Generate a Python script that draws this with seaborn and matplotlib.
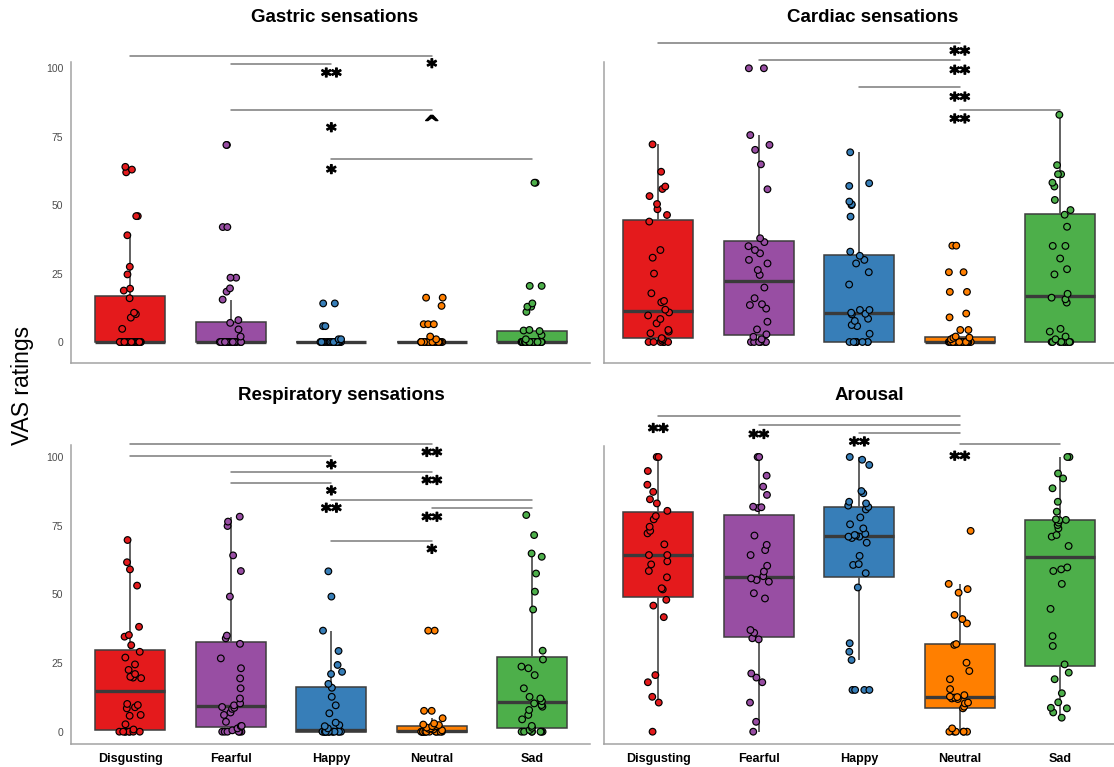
import numpy as np
import pandas as pd
import matplotlib
matplotlib.use("Agg")
import matplotlib.pyplot as plt
import matplotlib.patheffects as pe
import seaborn as sns

# ---------------- data ----------------
emotions = ["Disgusting", "Fearful", "Happy", "Neutral", "Sad"]
palette = ["#E41A1C", "#984EA3", "#377EB8", "#FF7F00", "#4DAF4A"]

# Gastric sensations
gastric_disgusting = [0, 0, 0, 0, 0, 0, 0, 0, 0, 0, 0, 0, 0, 0, 0, 0, 0, 0, 0, 0, 0, 0, 0, 0, 0,
                      4.8, 8.9, 10.2, 10.7, 16, 18.8, 19.5, 24.7, 27.5, 39, 46, 46, 62, 63, 64]
gastric_fearful = [0, 0, 0, 0, 0, 0, 0, 0, 0, 0, 0, 0, 0, 0, 0, 0, 0, 0, 0, 0, 0, 0, 0, 0, 0, 0, 0,
                   2, 4.6, 7, 8, 15.5, 18.4, 19.6, 23.5, 23.5, 42, 42, 72, 72]
gastric_happy = [0, 0, 0, 0, 0, 0, 0, 0, 0, 0, 0, 0, 0, 0, 0, 0, 0, 0, 0, 0, 0, 0, 0, 0, 0, 0, 0,
                 0, 0, 0, 0, 0, 0, 0, 1, 1, 5.8, 5.8, 14.1, 14.1]
gastric_neutral = [0, 0, 0, 0, 0, 0, 0, 0, 0, 0, 0, 0, 0, 0, 0, 0, 0, 0, 0, 0, 0, 0, 0, 0, 0, 0, 0,
                   0, 0, 0, 0, 0, 1, 2, 6.5, 6.5, 6.5, 13.2, 16.2, 16.2]
gastric_sad = [0, 0, 0, 0, 0, 0, 0, 0, 0, 0, 0, 0, 0, 0, 0, 0, 0, 0, 0, 0, 0, 0, 0, 0, 0, 0, 0,
               1, 2.5, 4.0, 4.2, 4.4, 11, 12.9, 12.9, 14.1, 20.5, 20.5, 58.2, 58.2]

# Cardiac sensations
cardiac_disgusting = [0, 0, 0, 0, 0, 0, 0.5, 1, 1.4, 3.2, 3.8, 4.4, 6.8, 8.4, 9.7, 10.8,
                      11.8, 14.5, 15, 17.8, 25, 30.8, 33.6, 44, 46.4, 48.5, 50.4, 53.3, 55.9,
                      56.8, 62.2, 72.2]
cardiac_fearful = [0, 0, 0, 0, 0, 0, 1, 1.9, 2.8, 4.6, 7.4, 12.2, 13.5, 13.8, 16, 19.9,
                   24.5, 26.3, 28.7, 30, 32.4, 33.6, 35, 36.5, 37.9, 55.8, 64.9, 70.2, 72,
                   75.6, 100, 100]
cardiac_happy = [0, 0, 0, 0, 0, 0, 0, 0, 0, 3, 5.8, 6.2, 7.7, 8.5, 10.1, 10.3,
                 10.7, 11.7, 11.7, 21, 25.5, 28.7, 30, 31.5, 33, 45.8, 50, 50.3, 51.3,
                 57, 58, 69.3]
cardiac_neutral = [0, 0, 0, 0, 0, 0, 0, 0, 0, 0, 0, 0, 0, 0, 0, 0, 0, 0, 0, 0, 0, 0, 0, 0,
                   0, 0, 0, 0, 0, 0, 1, 1.5, 1.6, 2, 4.4, 4.4, 9, 10.4, 18.3, 18.3, 25.5,
                   25.5, 35.2, 35.2]
cardiac_sad = [0, 0, 0, 0, 0, 0, 0, 0, 0, 1, 2, 3.8, 4.8, 14.4, 15.6, 16.2,
               17.6, 24.7, 26.6, 30.5, 35.1, 35.1, 42.1, 46.5, 48.2, 51.9, 56.8, 58.2,
               61.3, 61.3, 64.6, 83]

# Respiratory sensations
respiratory_disgusting = [0, 0, 0, 0, 0, 0, 0, 0, 0.8, 2.7, 5.8, 6.1, 8.5, 8.9, 9.7, 10.1,
                          19.5, 19.7, 20, 21, 22.5, 24.5, 27, 29.1, 31.5, 34.6, 35.2, 38.2,
                          53.2, 59.1, 61.7, 69.8]
respiratory_fearful = [0, 0, 0, 0, 0, 0, 0.5, 1.2, 2, 2.1, 3.6, 6.1, 7, 8.3, 8.7, 9,
                       9.6, 10.3, 12.1, 15.8, 19.4, 23.1, 26.7, 32, 34, 35, 49.2, 58.5,
                       64.2, 74.9, 76.5, 78.3]
respiratory_happy = [0, 0, 0, 0, 0, 0, 0, 0, 0, 0, 0, 0, 0, 0, 0, 0,
                     1.2, 2, 2.4, 3.3, 6.7, 9.6, 12.7, 16, 17.4, 21, 21.8, 24.3, 29.4,
                     36.8, 49.2, 58.4]
respiratory_neutral = [0, 0, 0, 0, 0, 0, 0, 0, 0, 0, 0, 0, 0, 0, 0, 0,
                       0.5, 0.8, 1, 1.2, 1.5, 1.8, 2, 2, 2.4, 2.6, 3, 4.9, 7.6, 7.6,
                       36.8, 36.8]
respiratory_sad = [0, 0, 0, 0, 0, 0, 0, 0.6, 1.4, 2.1, 4.5, 6.1, 7.9, 9.1, 9.7, 10.3,
                   11.1, 12.1, 12.7, 15.8, 20.6, 23.1, 23.7, 26.3, 29.5, 44.5, 51, 57.6,
                   63.7, 64.9, 71.6, 78.9]

# Arousal
arousal_disgusting = [0, 10.6, 12.7, 18, 20.6, 41.7, 45.9, 48, 51.8, 52.2, 56.2, 58.5,
                      60.9, 62, 64.3, 64.3, 68.2, 72.2, 73.1, 74.6, 77.3, 78.5, 80.4, 83.1,
                      84.6, 87.3, 89.9, 94.9, 100, 100]
arousal_fearful = [0, 3.6, 10.6, 18, 19.7, 21.2, 33.6, 34, 36, 37, 48.5, 50.4, 54.6,
                   55.2, 55.8, 56.6, 58.3, 60.4, 64.3, 66.1, 68, 71.4, 81.4, 81.7, 81.9,
                   86.2, 89.2, 93.2, 100, 100]
arousal_happy = [15.2, 15.2, 15.2, 15.2, 26.1, 29.1, 32.2, 52.5, 57.7, 60.7, 61, 64,
                 68.8, 70.5, 71, 71, 71.4, 71.6, 72, 74, 75.5, 78, 80.9, 81.8, 82.3,
                 83.1, 83.7, 86.8, 87.6, 97.1, 99, 100]
arousal_neutral = [0, 0, 0, 0, 0, 0, 1.2, 8.5, 9.1, 10.3, 10.6, 11.9, 12.1, 12.4, 12.6,
                   12.8, 13.3, 15.5, 19.1, 22.1, 25.1, 31.6, 31.9, 39.4, 41, 42.5, 50.6,
                   51.9, 53.8, 73.1]
arousal_sad = [5.1, 7, 8.5, 8.7, 10.7, 14, 19.1, 21.5, 24.5, 31.2, 34.8, 44.7, 53.8,
               58.5, 59.1, 59.8, 67.6, 71, 71.6, 74, 75.2, 76.1, 77, 77.1, 77.3, 80.1,
               83.7, 88.6, 92.2, 94, 100, 100]

# Pairwise comparisons: (first group, second group, bracket height)
gastric_brackets = [(0, 3, 104.6), (1, 2, 101.6), (1, 3, 84.9), (2, 4, 66.8)]
gastric_marks = [(3, 101.8, "*"), (2, 98.4, "**"), (3, 81.2, "^"), (2, 78.4, "*"), (2, 63.1, "*")]

cardiac_brackets = [(0, 3, 109.3), (1, 3, 103.0), (2, 3, 93.0), (3, 4, 84.8)]
cardiac_marks = [(3, 106.4, "**"), (3, 99.4, "**"), (3, 89.6, "**"), (3, 81.6, "**")]

respiratory_brackets = [(0, 3, 104.7), (0, 2, 100.4), (1, 3, 94.6), (1, 2, 90.6),
                        (2, 4, 84.2), (3, 4, 81.3), (2, 3, 69.5)]
respiratory_marks = [(3, 101.8, "**"), (2, 97.3, "*"), (3, 91.6, "**"), (2, 87.8, "*"),
                     (2, 81.5, "**"), (3, 78.2, "**"), (3, 66.5, "*")]

arousal_brackets = [(0, 3, 115.0), (1, 3, 111.7), (2, 3, 108.8), (3, 4, 104.6)]
arousal_marks = [(0, 110.5, "**"), (1, 108.3, "**"), (2, 105.6, "**"), (3, 100.4, "**")]

titles = ["Gastric sensations", "Cardiac sensations", "Respiratory sensations", "Arousal"]

panel_values = [
    [gastric_disgusting, gastric_fearful, gastric_happy, gastric_neutral, gastric_sad],
    [cardiac_disgusting, cardiac_fearful, cardiac_happy, cardiac_neutral, cardiac_sad],
    [respiratory_disgusting, respiratory_fearful, respiratory_happy, respiratory_neutral,
     respiratory_sad],
    [arousal_disgusting, arousal_fearful, arousal_happy, arousal_neutral, arousal_sad],
]
panel_brackets = [gastric_brackets, cardiac_brackets, respiratory_brackets, arousal_brackets]
panel_marks = [gastric_marks, cardiac_marks, respiratory_marks, arousal_marks]

# ---------------- style ----------------
sns.set_style("white")
plt.rcParams["font.family"] = ["Liberation Sans", "DejaVu Sans"]
plt.rcParams["text.color"] = "black"

W, H = 1114, 767
fig = plt.figure(figsize=(W / 100, H / 100), dpi=100)

axis_grey = "#a3a3a3"


def px_box(x0, x1, y_top, y_bot):
    return [x0 / W, 1 - y_bot / H, (x1 - x0) / W, (y_bot - y_top) / H]


# panel frames in pixels and their value ranges
frames = [
    (px_box(71, 589.6, 62.3, 363), (-0.59, 4.57), (-7.67, 102.2)),
    (px_box(604, 1114.5, 61.7, 363), (-0.54, 4.54), (-7.67, 102.4)),
    (px_box(71, 589.6, 445, 744), (-0.59, 4.57), (-4.48, 104.4)),
    (px_box(604, 1114.5, 446, 744), (-0.54, 4.54), (-4.48, 104.0)),
]
title_pos = [(335, 18), (873, 18), (341, 395), (869, 395)]

star_effect = [pe.withStroke(linewidth=0.9, foreground="black")]

np.random.seed(7)

for i, (values, (rect, xlim, ylim)) in enumerate(zip(panel_values, frames)):
    ax = fig.add_axes(rect)
    df = pd.DataFrame({
        "emotion": np.repeat(emotions, [len(v) for v in values]),
        "rating": np.concatenate([np.asarray(v, float) for v in values]),
    })
    sns.boxplot(data=df, x="emotion", y="rating", hue="emotion", order=emotions,
                hue_order=emotions, palette=palette, saturation=1, width=0.7,
                linewidth=1.1, linecolor="#3d3d3d", showfliers=False, showcaps=False,
                whis=1.5, medianprops={"linewidth": 2.4, "color": "#3a3a3a"},
                whiskerprops={"color": "#555555", "linewidth": 1.3},
                legend=False, ax=ax)
    sns.stripplot(data=df, x="emotion", y="rating", hue="emotion", order=emotions,
                  hue_order=emotions, palette=palette, jitter=0.11, size=4.8,
                  linewidth=0.85, edgecolor="black", legend=False, zorder=3, ax=ax)

    ax.set_xlim(*xlim)
    ax.set_ylim(*ylim)
    ax.set_xlabel("")
    ax.set_ylabel("")
    for side in ("top", "right"):
        ax.spines[side].set_visible(False)
    for side in ("left", "bottom"):
        ax.spines[side].set_color(axis_grey)
        ax.spines[side].set_linewidth(1.1)

    ax.set_yticks([0, 25, 50, 75, 100])
    if i % 2 == 0:
        ax.tick_params(axis="y", length=3.5, width=0.9, color=axis_grey,
                       labelsize=7.5, labelcolor="#4d4d4d", pad=2)
    else:
        ax.tick_params(axis="y", length=0, labelleft=False)
    if i >= 2:
        ax.tick_params(axis="x", length=3.5, width=0.9, color=axis_grey, pad=3)
        for lab in ax.get_xticklabels():
            lab.set_fontsize(9)
            lab.set_fontweight("bold")
            lab.set_color("black")
    else:
        ax.tick_params(axis="x", length=0, labelbottom=False)

    # significance brackets and markers
    for a, b, h in panel_brackets[i]:
        ax.plot([a, b], [h, h], color="#7a7a7a", linewidth=1.1, clip_on=False, zorder=4)
    for x, y, s in panel_marks[i]:
        ax.annotate(s, xy=(x, y), xytext=(0, -7), textcoords="offset points",
                    ha="center", va="baseline", fontsize=14, fontweight="bold",
                    family=["DejaVu Sans"], color="black", annotation_clip=False,
                    path_effects=star_effect, zorder=5)

    tx, ty = title_pos[i]
    fig.text(tx / W, 1 - ty / H, titles[i], ha="center", va="center",
             fontsize=13.5, fontweight="bold", color="black")

fig.text(22 / W, 1 - 385 / H, "VAS ratings", rotation=90, ha="center", va="center",
         fontsize=16.5, color="black")

fig.savefig("out.png", dpi=100)
